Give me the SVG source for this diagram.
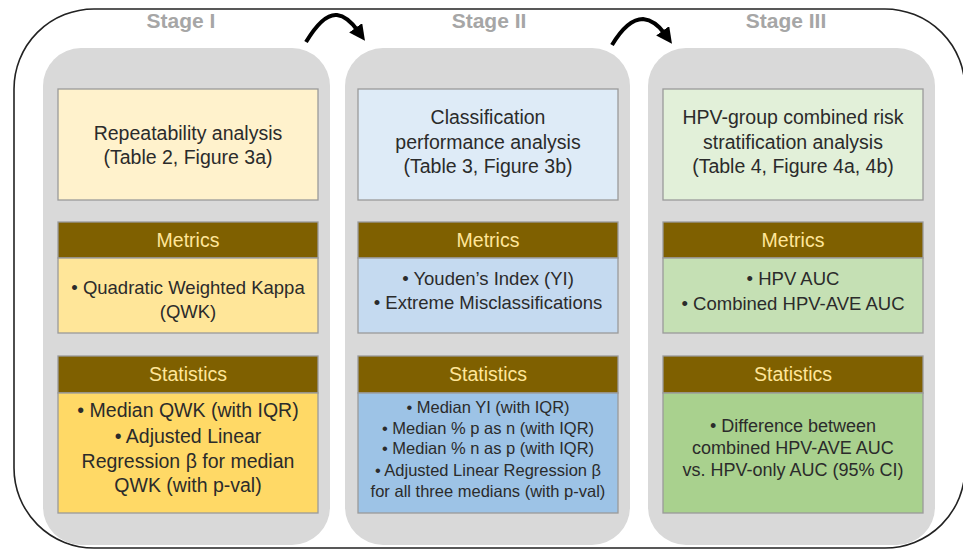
<svg xmlns="http://www.w3.org/2000/svg" width="963" height="551" viewBox="0 0 963 551">
  <style>
    text { font-family: "Liberation Sans", Arial, sans-serif; text-anchor: middle; fill: #2b2b2b; }
    .stage { font-size: 21px; font-weight: bold; fill: #a6a6a6; }
    .col { fill: #d9d9d9; }
    .box { stroke: #9a9a9a; stroke-width: 1.3; }
    .hdr { fill: #7f6000; stroke: #9a9a9a; stroke-width: 1.3; }
    .hdr-t { font-size: 19.5px; fill: #ffe699; }
    .t20 { font-size: 19.5px; }
    .t18 { font-size: 18.5px; }
    .t165 { font-size: 16.5px; }
    .t18s { font-size: 18px; }
    .conn { fill: none; stroke: #000; stroke-width: 4; stroke-linecap: butt; }
  </style>
  <defs>
    <marker id="ah" markerWidth="4" markerHeight="4" refX="1" refY="2" orient="auto" markerUnits="strokeWidth">
      <path d="M0,0 L4,2 L0,4 Z" fill="#000"/>
    </marker>
  </defs>

  <rect width="963" height="551" fill="#ffffff"/>

  <!-- outer frame -->
  <rect x="14" y="9" width="951" height="539" rx="80" ry="80" fill="none" stroke="#222" stroke-width="1.6"/>

  <!-- stage titles -->
  <text class="stage" x="181" y="28">Stage I</text>
  <text class="stage" x="489" y="28">Stage II</text>
  <text class="stage" x="786" y="28">Stage III</text>

  <!-- Stage I -->
  <g id="stage1">
    <rect class="col" x="43" y="48" width="287" height="497" rx="38"/>
    <rect class="box" x="58" y="89" width="260" height="111" fill="#fff2cc"/>
    <text class="t20" x="188" y="140">Repeatability analysis</text>
    <text class="t20" x="188" y="164">(Table 2, Figure 3a)</text>
    <rect class="hdr" x="58" y="222" width="260" height="36"/>
    <text class="hdr-t" x="188" y="247">Metrics</text>
    <rect class="box" x="58" y="258" width="260" height="75" fill="#ffe699"/>
    <text class="t18" x="188" y="294">• Quadratic Weighted Kappa</text>
    <text class="t18" x="188" y="318">(QWK)</text>
    <rect class="hdr" x="58" y="356" width="260" height="37"/>
    <text class="hdr-t" x="188" y="381">Statistics</text>
    <rect class="box" x="58" y="393" width="260" height="120" fill="#ffd966"/>
    <text class="t20" x="188" y="417">• Median QWK (with IQR)</text>
    <text class="t20" x="188" y="443">• Adjusted Linear</text>
    <text class="t20" x="188" y="468">Regression β for median</text>
    <text class="t20" x="188" y="492">QWK (with p-val)</text>
  </g>

  <!-- Stage II -->
  <g id="stage2">
    <rect class="col" x="345" y="48" width="285" height="497" rx="38"/>
    <rect class="box" x="358" y="89" width="260" height="111" fill="#deebf7"/>
    <text class="t20" x="488" y="124">Classification</text>
    <text class="t20" x="488" y="149">performance analysis</text>
    <text class="t20" x="488" y="173">(Table 3, Figure 3b)</text>
    <rect class="hdr" x="358" y="222" width="260" height="36"/>
    <text class="hdr-t" x="488" y="247">Metrics</text>
    <rect class="box" x="358" y="258" width="260" height="75" fill="#c5daf0"/>
    <text class="t18" x="488" y="285">• Youden’s Index (YI)</text>
    <text class="t18" x="488" y="309">• Extreme Misclassifications</text>
    <rect class="hdr" x="358" y="356" width="260" height="37"/>
    <text class="hdr-t" x="488" y="381">Statistics</text>
    <rect class="box" x="358" y="393" width="260" height="120" fill="#9dc3e6"/>
    <text class="t165" x="488" y="413">• Median YI (with IQR)</text>
    <text class="t165" x="488" y="434">• Median % p as n (with IQR)</text>
    <text class="t165" x="488" y="454">• Median % n as p (with IQR)</text>
    <text class="t165" x="488" y="476">• Adjusted Linear Regression β</text>
    <text class="t165" x="488" y="497">for all three medians (with p-val)</text>
  </g>

  <!-- Stage III -->
  <g id="stage3">
    <rect class="col" x="648" y="48" width="287" height="497" rx="38"/>
    <rect class="box" x="663" y="89" width="260" height="111" fill="#e2f0d9"/>
    <text class="t20" x="793" y="124">HPV-group combined risk</text>
    <text class="t20" x="793" y="149">stratification analysis</text>
    <text class="t20" x="793" y="173">(Table 4, Figure 4a, 4b)</text>
    <rect class="hdr" x="663" y="222" width="260" height="36"/>
    <text class="hdr-t" x="793" y="247">Metrics</text>
    <rect class="box" x="663" y="258" width="260" height="75" fill="#c5e0b4"/>
    <text class="t18" x="793" y="285">• HPV AUC</text>
    <text class="t18" x="793" y="310">• Combined HPV-AVE AUC</text>
    <rect class="hdr" x="663" y="356" width="260" height="37"/>
    <text class="hdr-t" x="793" y="381">Statistics</text>
    <rect class="box" x="663" y="393" width="260" height="120" fill="#a9d18e"/>
    <text class="t18s" x="793" y="432">• Difference between</text>
    <text class="t18s" x="793" y="454">combined HPV-AVE AUC</text>
    <text class="t18s" x="793" y="476">vs. HPV-only AUC (95% CI)</text>
  </g>

  <!-- curved arrows between stages -->
  <g id="connectors">
    <path class="conn" d="M306,42 C318,22 328,14 337,15 C346,16 353,24 358,31" marker-end="url(#ah)"/>
    <path class="conn" d="M612,45 C624,25 634,19 643,19 C652,20 660,27 665,34" marker-end="url(#ah)"/>
  </g>
</svg>
